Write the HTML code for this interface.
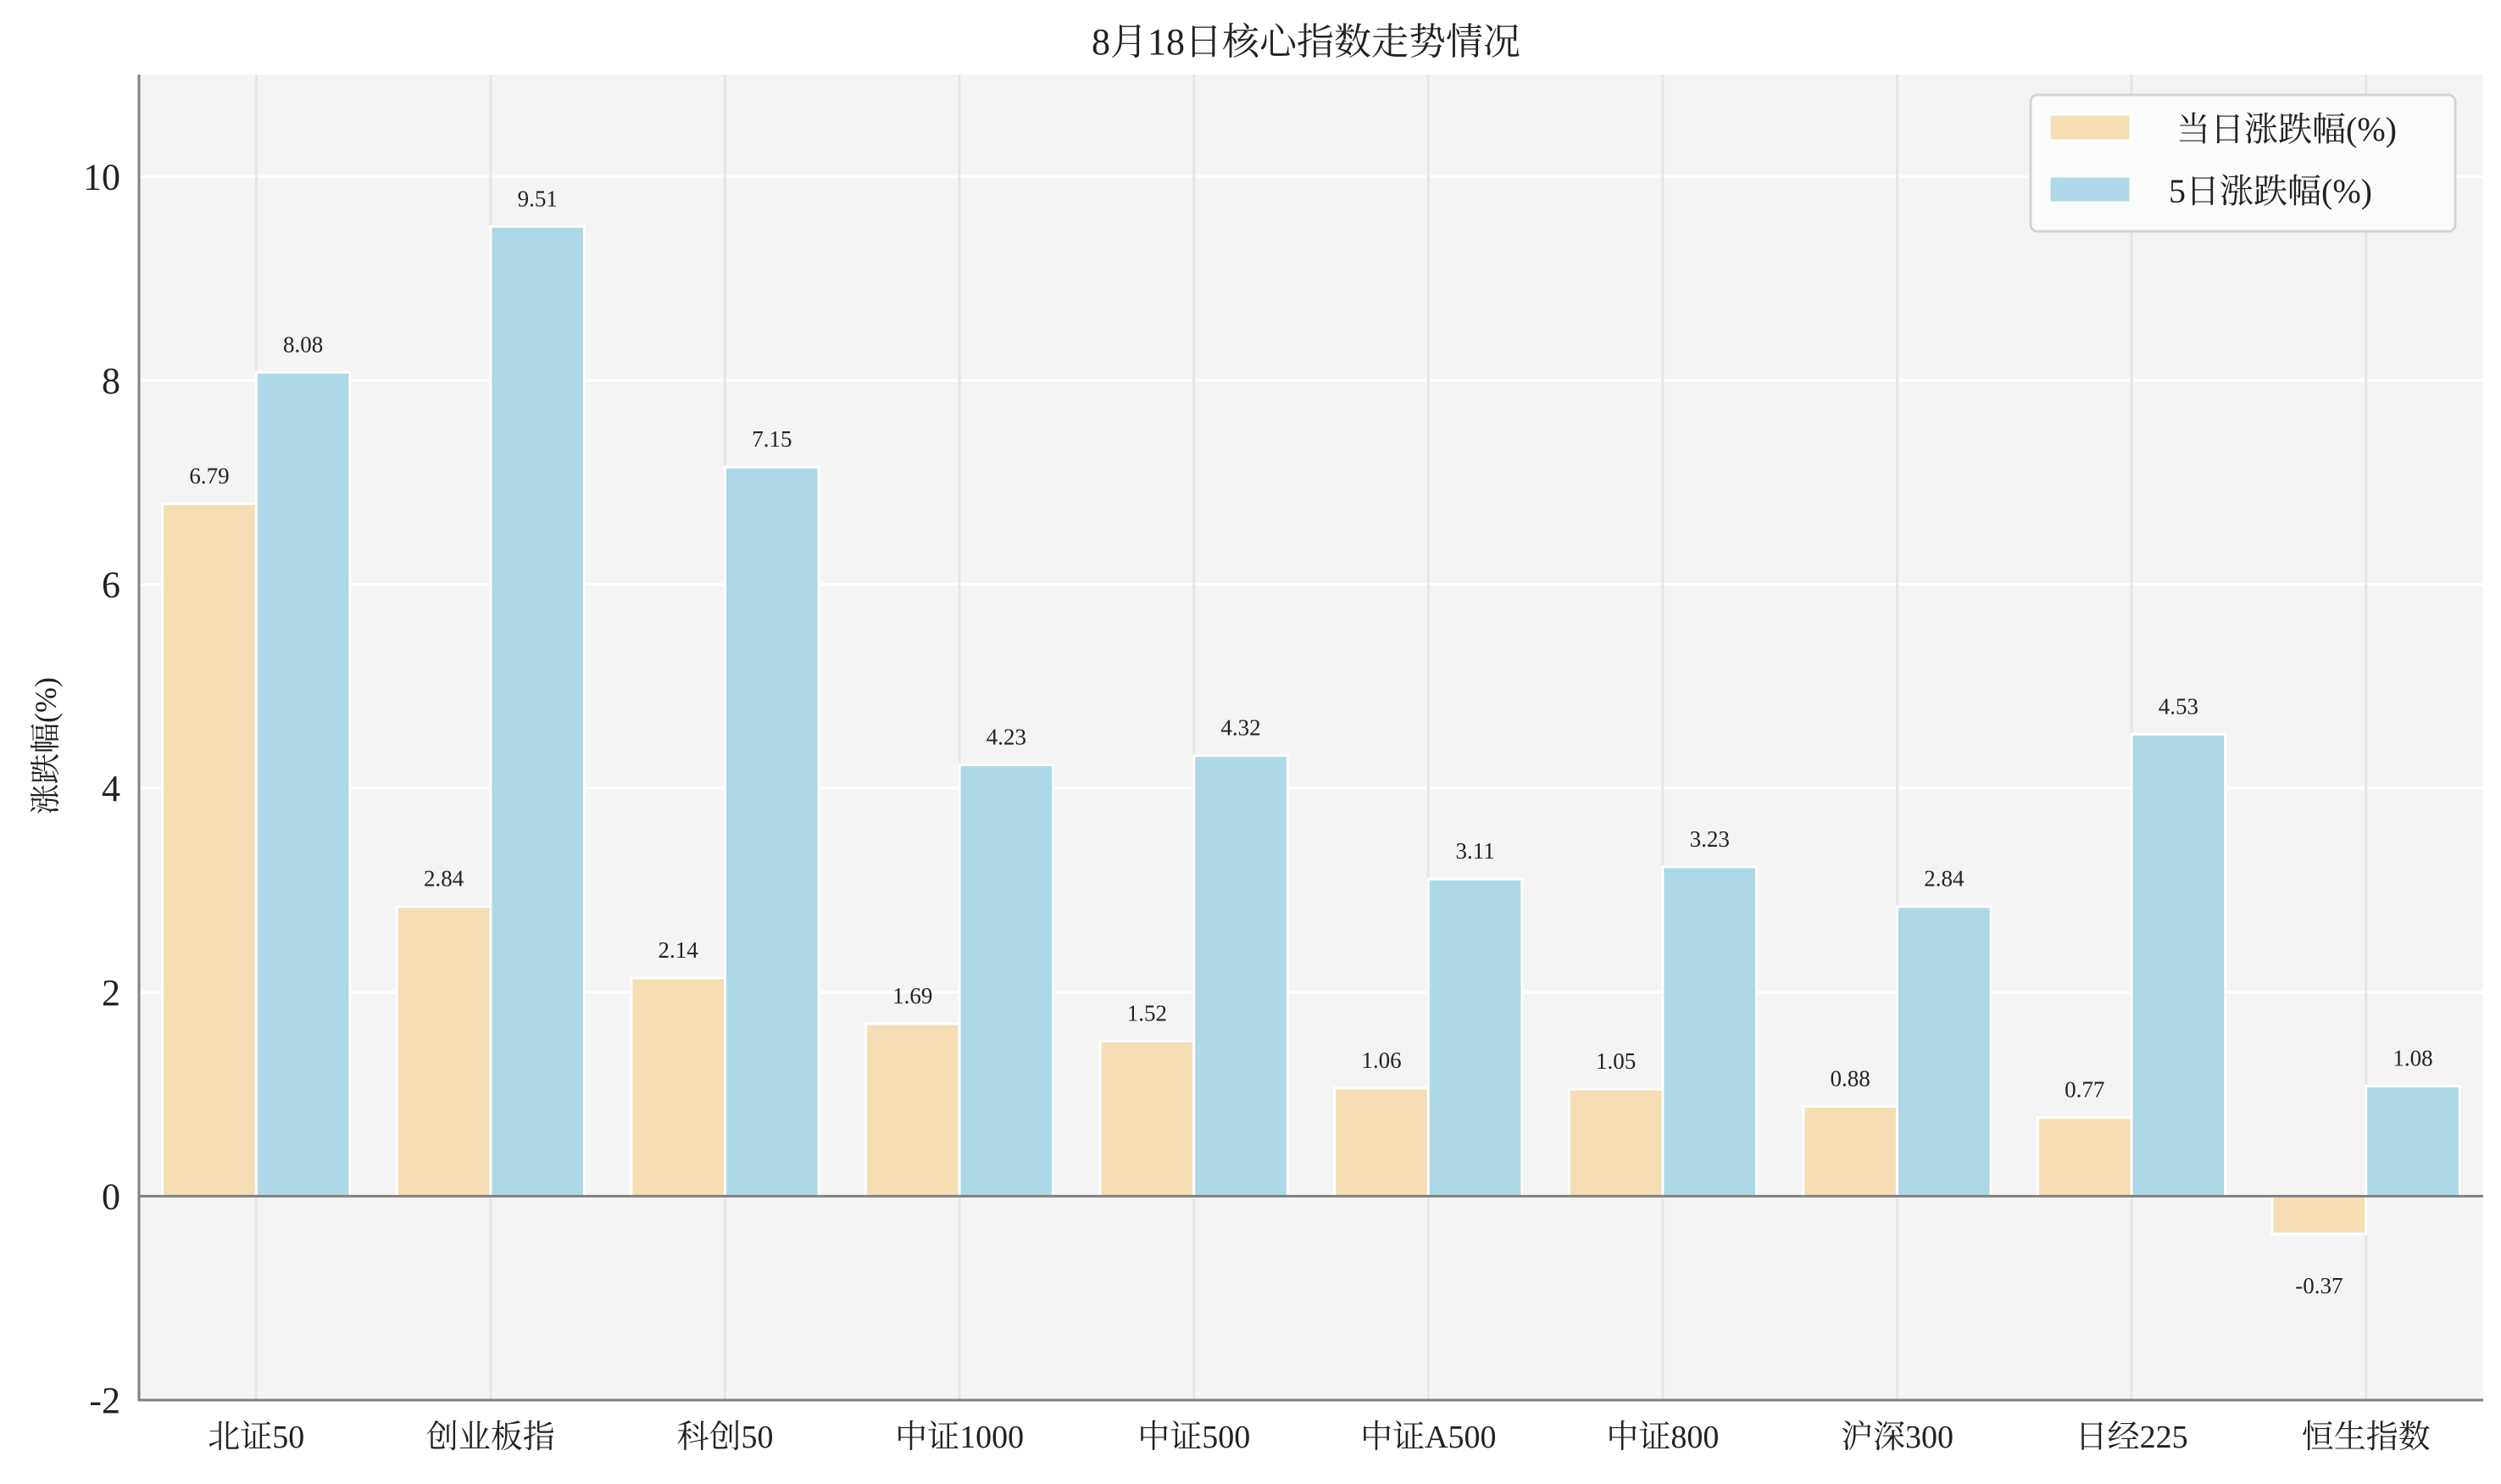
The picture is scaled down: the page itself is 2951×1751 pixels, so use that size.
<!DOCTYPE html>
<html><head><meta charset="utf-8"><style>
html,body{margin:0;padding:0;background:#fff;}
svg{display:block;font-family:"Liberation Serif","Noto Serif CJK SC",serif;}
</style></head><body>
<svg id="chart" width="2951" height="1751" viewBox="0 0 2951 1751" xmlns="http://www.w3.org/2000/svg">
<text x="1541" y="64" font-size="44" text-anchor="middle" fill="#222">8月18日核心指数走势情况</text>
<rect x="164" y="88" width="2766" height="1564" fill="#f4f4f4"/>
<g id="grid"></g>
<g id="bars"></g>
<g id="labels"></g>
<g id="axes"></g>
<text transform="translate(66,880) rotate(-90)" font-size="36" text-anchor="middle" fill="#222">涨跌幅(%)</text>
<g>
<rect x="2396" y="112" width="501" height="161" rx="8" fill="#fbfbfb" stroke="#d4d4d4" stroke-width="3"/>
<rect x="2418" y="135" width="96" height="31" fill="#F5DEB3" stroke="#fff" stroke-width="3"/>
<text x="2568" y="166" font-size="40" fill="#222">当日涨跌幅(%)</text>
<rect x="2418" y="208" width="96" height="31" fill="#ADD8E6" stroke="#fff" stroke-width="3"/>
<text x="2559" y="239" font-size="40" fill="#222">5日涨跌幅(%)</text>
</g>
</svg>
<script>
const categories = ["北证50","创业板指","科创50","中证1000","中证500","中证A500","中证800","沪深300","日经225","恒生指数"];
const dailyChange = [6.79,2.84,2.14,1.69,1.52,1.06,1.05,0.88,0.77,-0.37];
const fiveDayChange = [8.08,9.51,7.15,4.23,4.32,3.11,3.23,2.84,4.53,1.08];
const yTicks = [-2,0,2,4,6,8,10];

const NS="http://www.w3.org/2000/svg";
const X0=164,X1=2930,Y0=88,Y1=1652,YMIN=-2,YMAX=11;
const n=categories.length;
const xScale=i=>X0+(i+0.5)*(X1-X0)/n;
const yScale=v=>Y1-(v-YMIN)*(Y1-Y0)/(YMAX-YMIN);
const bw=0.4*(X1-X0)/n;
function mk(tag,attrs,parent){const e=document.createElementNS(NS,tag);for(const k in attrs)e.setAttribute(k,attrs[k]);parent.appendChild(e);return e;}
const grid=document.getElementById('grid'),bars=document.getElementById('bars'),labels=document.getElementById('labels'),axes=document.getElementById('axes');
yTicks.forEach(t=>{
  const l=mk('line',{x1:X0,x2:X1,y1:yScale(t),y2:yScale(t),stroke:'#ffffff','stroke-width':3},grid);
  
  
  const tx=mk('text',{x:X0-22,y:yScale(t)+15,'font-size':44,'text-anchor':'end',fill:'#222'},axes);
  tx.textContent=t;
  
  
});
categories.forEach((c,i)=>{
  const l=mk('line',{x1:xScale(i),x2:xScale(i),y1:Y0,y2:Y1,stroke:'#e6e6e6','stroke-width':3},grid);
  
  
  const tx=mk('text',{x:xScale(i),y:1708,'font-size':38,'text-anchor':'middle',fill:'#222'},axes);
  tx.textContent=c;
  
  
});
function drawSeries(vals,color,off,name){
  vals.forEach((v,i)=>{
    const x=xScale(i)+off-bw/2;
    const y=Math.min(yScale(v),yScale(0)),h=Math.abs(yScale(v)-yScale(0));
    const r=mk('rect',{x:x,y:y,width:bw,height:h,fill:color,stroke:'#fff','stroke-width':3},bars);
    
    
    const ly=v>=0?yScale(v)-24:yScale(v)+70;
    const t=mk('text',{x:xScale(i)+off,y:ly,'font-size':27,'text-anchor':'middle',fill:'#222'},labels);
    t.textContent=v.toFixed(2);
    
    
  });
}
drawSeries(dailyChange,'#F5DEB3',-bw/2,'daily');
drawSeries(fiveDayChange,'#ADD8E6',bw/2,'five-day');
const z=mk('line',{x1:X0,x2:X1,y1:yScale(0),y2:yScale(0),stroke:'#808080','stroke-width':3},axes);


const la=mk('line',{x1:X0,x2:X0,y1:Y0,y2:Y1+1.5,stroke:'#808080','stroke-width':3},axes);


const ba=mk('line',{x1:X0,x2:X1,y1:Y1,y2:Y1,stroke:'#808080','stroke-width':3},axes);


</script>
</body></html>
